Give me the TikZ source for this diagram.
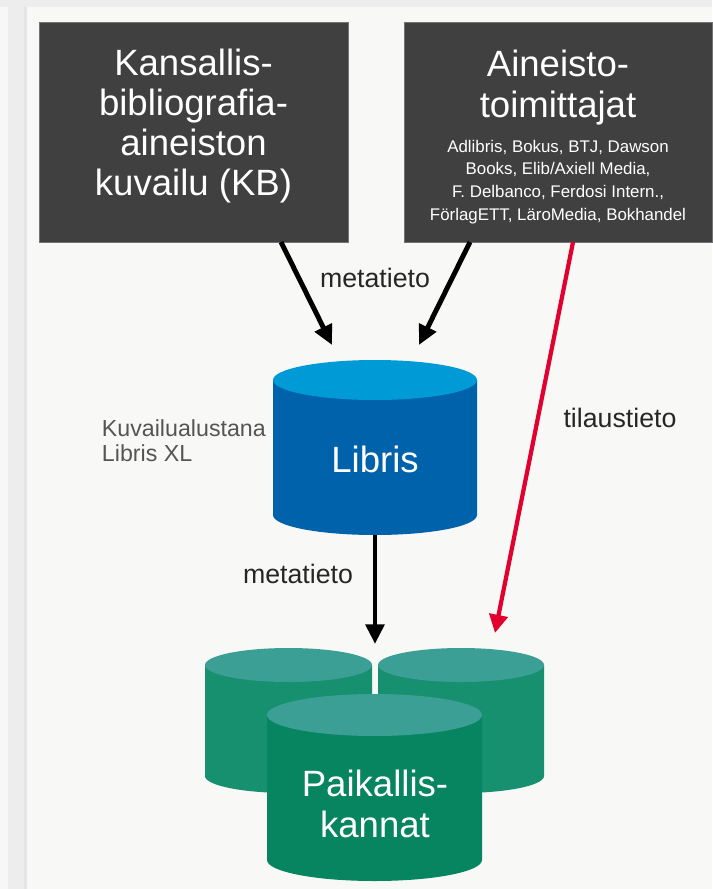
\documentclass[tikz,border=0pt]{standalone}
\usepackage{fontspec}
\setmainfont{Liberation Sans}
\usetikzlibrary{arrows.meta}

\definecolor{panelgrey}{HTML}{F8F8F7}
\definecolor{boxgrey}{HTML}{404040}
\definecolor{librisblue}{HTML}{0062AB}
\definecolor{libristop}{HTML}{009AD7}
\definecolor{localgreen}{HTML}{078460}
\definecolor{localback}{HTML}{16906F}
\definecolor{localtop}{HTML}{3C9F96}
\definecolor{orderred}{HTML}{E2002E}
\definecolor{notegrey}{HTML}{555555}

% tietokanta: keski x, ylä y, ala y, x-säde, y-säde, runko, kansi
\newcommand{\dbcylinder}[7]{%
  \fill[#6] ({#1-#4},#2) -- ({#1-#4},#3)
    arc[start angle=180,end angle=0,x radius=#4,y radius=#5] -- ({#1+#4},#2) -- cycle;
  \fill[#7] (#1,#2) ellipse[x radius=#4,y radius=#5];
}
\newcommand{\supplist}{\fontsize{12}{15.8}\selectfont}

\tikzset{
  darkbox/.style={fill=boxgrey, draw=black!55, line width=0.5pt, inner sep=0pt},
  boxtext/.style={text=white, align=center, font=\fontsize{26}{28.6}\selectfont},
  dbtext/.style={text=white, align=center, font=\fontsize{26}{28.6}\selectfont},
  flowlabel/.style={font=\fontsize{19}{22}\selectfont, text=black!85},
  metaarrow/.style={line width=3.5pt, -{Triangle[length=14pt,width=13pt]}},
  orderarrow/.style={line width=3pt, orderred, -{Triangle[length=13pt,width=13pt]}},
}

\begin{document}
\begin{tikzpicture}[x=0.025cm,y=-0.025cm]

    \useasboundingbox (0,0) rectangle (712,889);

    % tausta
    \fill[black!3] (0,0) rectangle (712,889);
    \fill[black!7] (8,0) rectangle (27,889);
    \fill[black!7] (0,0) rectangle (712,7);
    \fill[black!10] (24,7) rectangle (27,889);
    \fill[panelgrey] (27,7) rectangle (712,889);

    % lähteet
    \node[darkbox, minimum width=7.725cm, minimum height=5.5cm] (kb) at (193.5,132) {};
    \node[boxtext] (kbtext) at (193.5,126)
        {Kansallis-\\bibliografia-\\aineiston\\kuvailu (KB)};
    \node[darkbox, minimum width=7.7cm, minimum height=5.5cm] (suppliers) at (558,132) {};
    \node[boxtext] (supptext) at (558,137)
        {Aineisto-\\toimittajat\\[-3.8pt]
         \supplist Adlibris, Bokus, BTJ, Dawson\\[-12.5pt]
         \supplist Books, Elib/Axiell Media,\\[-12.5pt]
         \supplist F. Delbanco, Ferdosi Intern.,\\[-12.5pt]
         \supplist FörlagETT, LäroMedia, Bokhandel};

    % Libris
    \dbcylinder{375}{380}{515}{102}{20}{librisblue}{libristop}
    \node[dbtext, anchor=base] (libris) at (375,472) {Libris};
    \node[anchor=west, align=left, text=notegrey, font=\fontsize{16.5}{17.7}\selectfont]
        (xlnote) at (97,441) {Kuvailualustana\\Libris XL};

    % paikalliskannat
    \dbcylinder{288.5}{665}{776}{83.5}{17}{localback}{localtop}
    \dbcylinder{461}{665}{776}{83}{17}{localback}{localtop}
    \dbcylinder{374.5}{715}{860}{107.5}{21}{localgreen}{localtop}
    \node[dbtext] (local) at (375,804) {Paikallis-\\kannat};

    % liitospisteet
    \coordinate (kb-out) at (281,242);
    \coordinate (suppliers-out) at (470,242);
    \coordinate (suppliers-order) at (573,242);
    \coordinate (libris-in1) at (332,345);
    \coordinate (libris-in2) at (419,345);
    \coordinate (libris-out) at (375,535);
    \coordinate (local-in) at (375,644);
    \coordinate (local-order) at (495,633);

    % nuolet
    \draw[metaarrow] (kb-out) -- (libris-in1);
    \draw[metaarrow] (suppliers-out) -- (libris-in2);
    \draw[metaarrow] (libris-out) -- (local-in);
    \draw[orderarrow] (suppliers-order) -- (local-order);

    % nuolten tekstit
    \node[flowlabel, anchor=base] (meta1) at (375,287) {metatieto};
    \node[flowlabel, anchor=base] (meta2) at (298,583) {metatieto};
    \node[flowlabel, anchor=base] (order) at (620,427) {tilaustieto};

\end{tikzpicture}
\end{document}
